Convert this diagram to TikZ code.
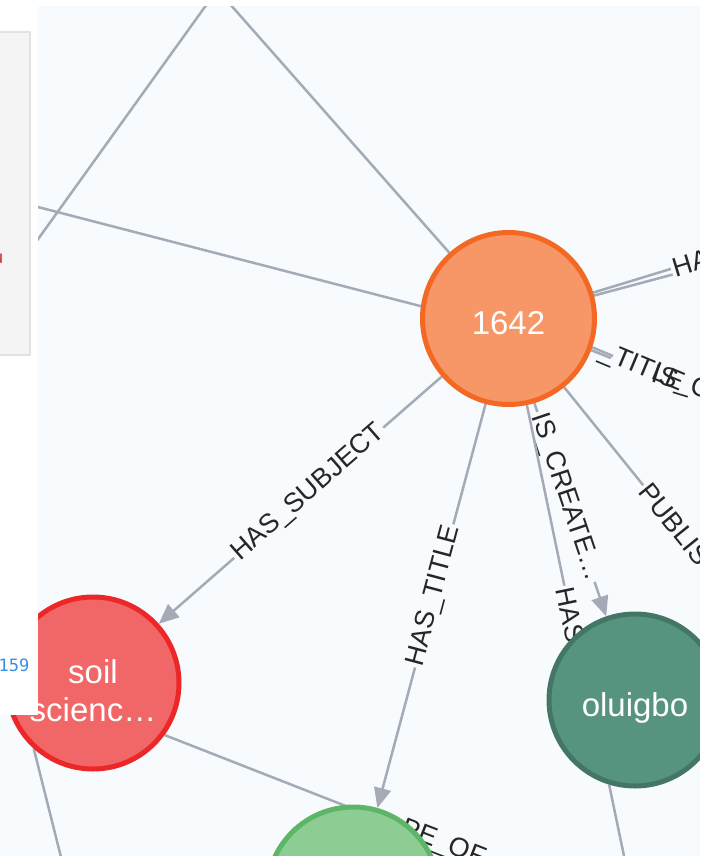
\documentclass[tikz,border=0pt]{standalone}
\usepackage{fontspec}
\setmainfont{Liberation Sans}
\newfontfamily\monofont{DejaVu Sans Mono}
\usetikzlibrary{arrows.meta, backgrounds}
\definecolor{canvas}{HTML}{F8FBFE}
\definecolor{relgray}{HTML}{A5ABB6}
\definecolor{paperfill}{HTML}{F79767}
\definecolor{paperline}{HTML}{F36924}
\definecolor{subjfill}{HTML}{F16667}
\definecolor{subjline}{HTML}{EB2728}
\definecolor{authfill}{HTML}{569480}
\definecolor{authline}{HTML}{447666}
\definecolor{titlefill}{HTML}{8DCC93}
\definecolor{titleline}{HTML}{5DB665}
\definecolor{panelgray}{HTML}{F4F4F4}
\definecolor{panelline}{HTML}{E2E2E2}
\definecolor{idblue}{HTML}{3D8FE0}
\definecolor{markred}{HTML}{C9302C}
\tikzset{> = { Triangle[length = 20pt, width = 17pt] }}
\tikzstyle{every path} = [ line width = 2.5pt ]
\tikzset{
	entity/.style = { draw, circle, line width = 5pt, minimum size = 172pt, inner sep = 0pt,
		text = white, align = center, font = \fontsize{33}{38}\selectfont,
		text height = 32pt, text depth = 0pt },
	rel/.style = { draw = relgray },
	reltext/.style = { fill = canvas, inner sep = 2pt, text = black!85,
		font = \fontsize{27}{30}\selectfont },
	rellabel/.style = { reltext, sloped }
}

\begin{document}
\begin{tikzpicture}[x = 1pt, y = -1pt]
	\useasboundingbox (0, 0) rectangle (704, 856);

	\node [entity, fill = paperfill, draw = paperline] (n1642) at (508.5, 318.5) {1642};
	\node [entity, fill = subjfill, draw = subjline, text height = 76pt] (soil) at (93, 683) {soil\\scienc…};
	\node [entity, fill = authfill, draw = authline] (oluigbo) at (635, 700) {oluigbo};
	\node [entity, fill = titlefill, draw = titleline] (title) at (353, 893) {};

	% Loose ends, outside the view.
	\coordinate (farA) at (212, -3);
	\coordinate (farB) at (-20, 320);
	\coordinate (farC) at (-20, 192);
	\coordinate (farD) at (222, -5);
	\coordinate (farE) at (795, 231);
	\coordinate (farE2) at (798, 241);
	\coordinate (titleEnd) at (613, 356);
	\coordinate (isEnd) at (611, 358);
	\coordinate (farP) at (760, 630);
	\coordinate (farS) at (66, 877);
	\coordinate (farO) at (629, 880);
	\coordinate (farT) at (767, 971);

	\begin{scope}[on background layer]
		\fill [canvas] (0, 0) rectangle (704, 856);

		\draw [rel] (farA) -- (farB);
		\draw [rel] (n1642.172) -- (farC);
		\draw [rel] (n1642.132) -- (farD);

		% Right side.
		\draw [rel] (n1642.15) -- (farE2);
		\draw [rel] (n1642.17) -- (farE) node [rellabel, pos = 0.38, anchor = west] {HA};
		\draw [rel] (n1642.-21) -- (isEnd);
		\draw [rel] (n1642.-19) -- (titleEnd)
			node [rellabel, fill = none, pos = 0.3, anchor = west] {\_TITLE};
		\node [reltext, fill = none, rotate = -17, anchor = west] (isText) at (649, 374) {IS\_C};
		\draw [rel] (n1642.-51) -- (farP) node [rellabel, pos = 0.4, anchor = west] {PUBLIS};

		\draw [rel, ->] (n1642.-139) -- (soil.42) node [rellabel, pos = 0.47] {HAS\_SUBJECT};
		\draw [rel, ->] (n1642.-105) -- (title.74) node [rellabel, pos = 0.475] {HAS\_TITLE};
		\draw [rel, ->] (n1642.-73) -- (oluigbo.109) node [rellabel, pos = 0.44] {IS\_CREATE…};
		\draw [rel] (n1642.-78) -- (oluigbo.133) node [rellabel, pos = 0.78, anchor = west] {HAS};

		\draw [rel] (soil.-36) -- (farT) node [rellabel, pos = 0.462] {PE\_OF};
		\draw [rel] (soil.-132) -- (farS);
		\draw [rel] (oluigbo.-107) -- (farO);
	\end{scope}

	% Side panel.
	\fill [white] (-10, -10) rectangle (38, 715);
	\fill [white] (-10, -10) rectangle (720, 6);
	\fill [white] (700, -10) rectangle (720, 870);
	\draw [line width = 1.5pt, draw = panelline, fill = panelgray] (-5, 32) rectangle (30, 355);
	\node [text = markred, anchor = east, inner sep = 0pt, font = \fontsize{18}{20}\selectfont] (mark) at (4.5, 259) {u};
	\node [text = idblue, anchor = east, inner sep = 0pt, font = \monofont\fontsize{17}{20}\selectfont] (nodeid) at (30.5, 665) {159};
\end{tikzpicture}
\end{document}
